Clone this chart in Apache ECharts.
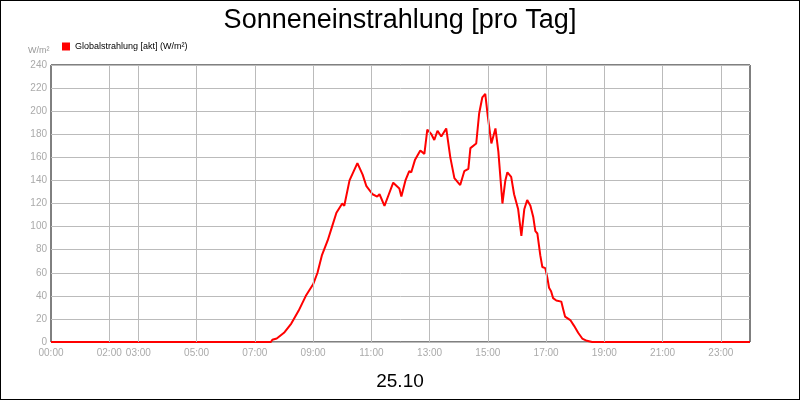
<!DOCTYPE html>
<html><head><meta charset="utf-8">
<script src="https://cdn.jsdelivr.net/npm/echarts@6/dist/echarts.min.js"></script>
<style>html,body{margin:0;padding:0}#c{width:798px;height:398px;border:1px solid #000}</style>
</head><body><div id="c"></div>
<script>
const hours=[0,7.55,7.6,7.75,8.0,8.25,8.5,8.75,9.0,9.15,9.3,9.5,9.65,9.8,10.0,10.07,10.25,10.52,10.7,10.83,11.04,11.2,11.28,11.45,11.6,11.75,11.96,12.03,12.17,12.3,12.37,12.5,12.68,12.82,12.92,13.06,13.16,13.27,13.4,13.57,13.71,13.85,14.05,14.19,14.33,14.4,14.6,14.7,14.81,14.91,15.0,15.12,15.26,15.36,15.5,15.6,15.67,15.8,15.9,16.04,16.15,16.25,16.35,16.46,16.56,16.63,16.7,16.8,16.87,16.97,17.04,17.1,17.17,17.24,17.35,17.52,17.59,17.65,17.83,17.96,18.1,18.24,18.4,18.58,24];
const values=[0,0,2,3,8,16,27,40,50,60,75,88,100,112,120,118,140,155,145,135,128,126,128,118,128,138,133,126,140,148,147,158,166,163,184,180,175,183,178,185,160,142,136,148,150,168,172,198,212,215,195,172,185,165,120,140,147,143,128,115,92,115,123,118,108,96,94,75,65,64,56,47,44,38,36,35,28,22,19,14,8,3,1,0,0];
const labelHours=[0,2,3,5,7,9,11,13,15,17,19,21,23];
const pad=n=>String(n).padStart(2,'0')+':00';
const chart=echarts.init(document.getElementById('c'));
chart.setOption({
 animation:false,
 title:[{text:'Sonneneinstrahlung [pro Tag]',left:'center',top:1,textStyle:{fontFamily:'Liberation Sans',fontSize:27,fontWeight:'normal',color:'#000'}},
  {text:'25.10',left:'center',top:366,textStyle:{fontFamily:'Liberation Sans',fontSize:19,fontWeight:'normal',color:'#000'}},
  {text:'W/m²',left:22,top:40,textStyle:{fontFamily:'Liberation Sans',fontSize:9,fontWeight:'normal',color:'#999'}}],
 legend:{left:56,top:36,itemWidth:8,itemHeight:8,itemGap:4,icon:'rect',textStyle:{fontFamily:'Liberation Sans',fontSize:9,color:'#000'},data:['Globalstrahlung [akt] (W/m²)']},
 grid:{left:50,right:49,top:64,bottom:57,show:true,borderColor:'#000',borderWidth:1},
 xAxis:{type:'value',min:0,max:24,interval:1,
  axisLine:{show:false},axisTick:{show:false},splitLine:{show:false},
  axisLabel:{color:'#aaa',fontFamily:'Liberation Sans',fontSize:10,margin:6,showMaxLabel:false,
   formatter:v=>labelHours.includes(v)?pad(v):''}},
 yAxis:{type:'value',min:0,max:240,interval:20,
  axisLine:{show:false},axisTick:{show:false},
  splitLine:{lineStyle:{color:'#bbb',width:1}},
  axisLabel:{color:'#aaa',fontFamily:'Liberation Sans',fontSize:10,margin:4}},
 series:[{name:'Globalstrahlung [akt] (W/m²)',type:'line',showSymbol:false,color:'#ff0000',
  lineStyle:{width:2,color:'#ff0000'},data:hours.map((h,i)=>[h,values[i]]),
  markLine:{silent:true,symbol:'none',label:{show:false},lineStyle:{color:'#bbb',type:'solid',width:1},
   data:labelHours.filter(h=>h>0).map(h=>({xAxis:h}))}}]
});
</script></body></html>
